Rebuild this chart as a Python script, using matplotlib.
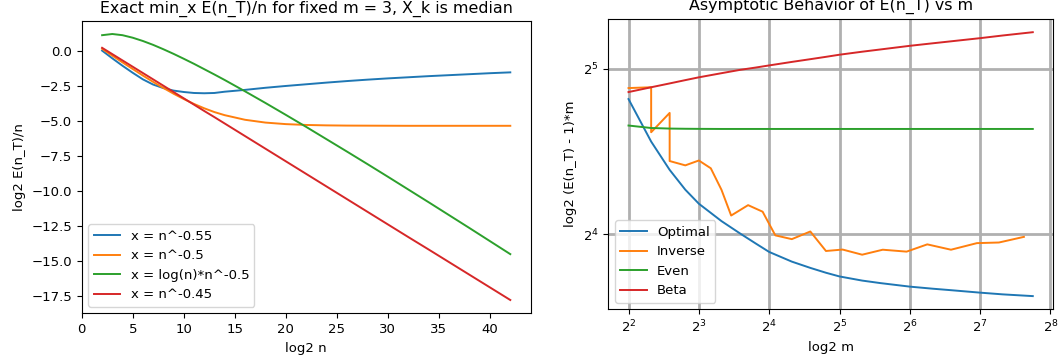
import matplotlib
matplotlib.use("Agg")
import matplotlib.pyplot as plt

# ---------------- Left chart data ----------------
log2_n = [2, 3, 4, 5, 6, 7, 8, 9, 10, 11, 12, 13, 14, 16, 18, 20, 22, 24, 26, 28,
          30, 32, 34, 36, 38, 40, 42]
x_n055 = [0.00, -0.55, -1.08, -1.58, -2.05, -2.42, -2.67, -2.85, -2.95, -3.02, -3.04,
          -3.02, -2.93, -2.80, -2.65, -2.52, -2.40, -2.28, -2.17, -2.07,
          -1.98, -1.90, -1.82, -1.75, -1.68, -1.61, -1.55]
x_n050 = [0.13, -0.36, -0.84, -1.31, -1.78, -2.23, -2.66, -3.07, -3.45, -3.80, -4.11,
          -4.38, -4.60, -4.93, -5.13, -5.24, -5.30, -5.33, -5.345, -5.35,
          -5.355, -5.36, -5.36, -5.36, -5.36, -5.36, -5.36]
x_logn = [1.10, 1.185, 1.10, 0.92, 0.685, 0.41, 0.10, -0.23, -0.58, -0.94, -1.32,
          -1.70, -2.09, -2.90, -3.73, -4.58, -5.44, -6.32, -7.20, -8.09,
          -8.99, -9.90, -10.81, -11.73, -12.65, -13.58, -14.51]
x_n045 = [0.20, -0.25, -0.70, -1.15, -1.60, -2.05, -2.50, -2.95, -3.40, -3.85, -4.30,
          -4.74, -5.19, -6.09, -6.99, -7.89, -8.79, -9.69, -10.59, -11.49,
          -12.39, -13.29, -14.18, -15.08, -15.98, -16.88, -17.78]
left_labels = ["x = n^-0.55", "x = n^-0.5", "x = log(n)*n^-0.5", "x = n^-0.45"]

# ---------------- Right chart data ----------------
m_vals = [4, 5, 6, 7, 8, 10, 12, 14, 16, 20, 24, 28, 32, 40, 48, 64, 80, 96, 128, 160, 215]
optimal = [28.2, 23.6, 20.96, 19.29, 18.19, 16.91, 16.06, 15.40, 14.86, 14.27, 13.90,
           13.62, 13.41, 13.18, 13.04, 12.85, 12.74, 12.66, 12.53, 12.44, 12.35]
even = [25.24, 24.98, 24.92, 24.90, 24.89, 24.88, 24.88, 24.88, 24.88, 24.88, 24.88,
        24.88, 24.88, 24.88, 24.88, 24.88, 24.88, 24.88, 24.88, 24.88, 24.88]
beta = [29.04, 29.63, 30.11, 30.53, 30.89, 31.43, 31.87, 32.18, 32.47, 32.95, 33.33,
        33.66, 33.96, 34.39, 34.72, 35.25, 35.62, 35.92, 36.40, 36.81, 37.32]
m_inverse = [4, 5, 5, 6, 6, 7, 8, 9, 10, 11, 13, 15, 17, 20, 24, 28, 33, 40, 49, 62,
             76, 96, 124, 154, 197]
inverse = [29.53, 29.63, 24.54, 26.61, 21.75, 21.36, 21.80, 21.10, 19.28, 17.31, 18.08,
           17.59, 15.93, 15.68, 16.19, 14.92, 15.01, 14.69, 15.00, 14.88, 15.34, 15.00,
           15.42, 15.46, 15.83]
right_labels = ["Optimal", "Inverse", "Even", "Beta"]

plt.rcParams["font.size"] = 9.5
plt.rcParams["font.family"] = ["DejaVu Sans"]

W, H = 1060, 364
fig = plt.figure(figsize=(W / 100, H / 100), dpi=100)

lw = 1.4
colors = ["#1f77b4", "#ff7f0e", "#2ca02c", "#d62728"]

# Left axes
ax1 = fig.add_axes([81.7 / W, 1 - 313.3 / H, 449.0 / W, 292.6 / H])
for ys, lab, c in zip([x_n055, x_n050, x_logn, x_n045], left_labels, colors):
    ax1.plot(log2_n, ys, color=c, lw=lw, label=lab)
ax1.set_title("Exact min_x E(n_T)/n for fixed m = 3, X_k is median", pad=5.5)
ax1.set_xlabel("log2 n")
ax1.set_ylabel("log2 E(n_T)/n")
ax1.legend(loc="lower left")

# Right axes
ax2 = fig.add_axes([608.3 / W, 1 - 309.3 / H, 444.7 / W, 290.3 / H])
ax2.plot(m_vals, optimal, color=colors[0], lw=lw, label=right_labels[0])
ax2.plot(m_inverse, inverse, color=colors[1], lw=lw, label=right_labels[1])
ax2.plot(m_vals, even, color=colors[2], lw=lw, label=right_labels[2])
ax2.plot(m_vals, beta, color=colors[3], lw=lw, label=right_labels[3])
ax2.set_xscale("log", base=2)
ax2.set_yscale("log", base=2)
ax2.grid(True, color="#b0b0b0", linewidth=2.0)
ax2.set_title("Asymptotic Behavior of E(n_T) vs m", pad=6.5)
ax2.set_xlabel("log2 m")
ax2.set_ylabel("log2 (E(n_T) - 1)*m")
ax2.legend(loc="lower left")

fig.savefig("out.png", dpi=100)
